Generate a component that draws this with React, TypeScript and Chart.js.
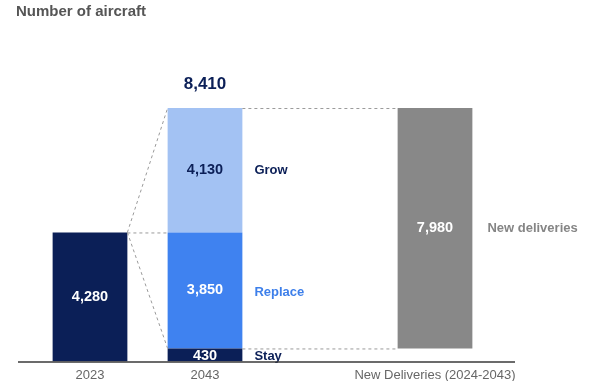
import React, { useEffect, useRef } from "react";
import { Chart, registerables } from "chart.js";

Chart.register(...registerables);

// ---- Data ----
const categories = ["2023", "2043", "", "New Deliveries (2024-2043)"];
const fleet2023 = [4280, null, null, null];
const stay = [null, 430, null, null];
const replace = [null, 3850, null, null];
const grow = [null, 4130, null, null];
const newDeliveriesRange: (number[] | null)[] = [null, null, null, [430, 8410]];
const total2043 = 8410;
const newDeliveriesTotal = 7980;
const segmentNames = ["Stay", "Replace", "Grow"];
const newDeliveriesName = "New deliveries";
const titleText = "Number of aircraft";

const FONT = '"Liberation Sans", Arial, Helvetica, sans-serif';
const NAVY = "#0b1f57";
const BLUE = "#3f82f0";
const LIGHT = "#a3c2f3";
const GRAY = "#888888";

const fmt = (v: number) => v.toLocaleString("en-US");

export default function App() {
  const ref = useRef<HTMLCanvasElement>(null);

  useEffect(() => {
    const canvas = ref.current;
    if (!canvas) return;

    const overlay = {
      id: "overlay",
      afterDatasetsDraw(chart: any) {
        const c = chart.ctx;
        const el = (ds: number, i: number) => chart.getDatasetMeta(ds).data[i] as any;
        const box = (e: any) => ({
          l: e.x - e.width / 2,
          r: e.x + e.width / 2,
          top: Math.min(e.y, e.base),
          bot: Math.max(e.y, e.base),
          cx: e.x,
          cy: (e.y + e.base) / 2,
        });
        const bStay = box(el(0, 1));
        const bRep = box(el(1, 1));
        const bGrow = box(el(2, 1));
        const b23 = box(el(3, 0));
        const bNd = box(el(4, 3));

        c.save();
        // dashed connectors
        c.strokeStyle = "#9a9a9a";
        c.lineWidth = 1;
        c.setLineDash([3, 3]);
        const line = (x1: number, y1: number, x2: number, y2: number) => {
          c.beginPath();
          c.moveTo(x1, y1);
          c.lineTo(x2, y2);
          c.stroke();
        };
        line(b23.r, b23.top + 0.5, bStay.l, b23.top + 0.5);
        line(b23.r, b23.top, bGrow.l, bGrow.top);
        line(b23.r, b23.top, bStay.l, bStay.top);
        line(bGrow.r, bGrow.top + 0.5, bNd.l, bGrow.top + 0.5);
        line(bStay.r, bStay.top + 0.5, bNd.l, bStay.top + 0.5);
        c.setLineDash([]);

        // value labels
        c.textBaseline = "middle";
        c.textAlign = "center";
        c.font = `bold 14.5px ${FONT}`;
        c.fillStyle = "#ffffff";
        c.fillText(fmt(fleet2023[0] as number), b23.cx, b23.cy);
        c.fillText(fmt(stay[1] as number), bStay.cx, bStay.cy + 1);
        c.fillText(fmt(replace[1] as number), bRep.cx, bRep.cy);
        c.fillText(fmt(newDeliveriesTotal), bNd.cx, bNd.cy);
        c.fillStyle = NAVY;
        c.fillText(fmt(grow[1] as number), bGrow.cx, bGrow.cy);
        c.font = `bold 17px ${FONT}`;
        c.fillText(fmt(total2043), bGrow.cx, bGrow.top - 24);

        // names
        c.textAlign = "left";
        c.font = `bold 13px ${FONT}`;
        c.fillStyle = NAVY;
        c.fillText(segmentNames[2], bGrow.r + 12, bGrow.cy);
        c.fillText(segmentNames[0], bStay.r + 12, bStay.cy + 1);
        c.fillStyle = "#3d7fea";
        c.fillText(segmentNames[1], bRep.r + 12, bRep.cy + 2);
        c.fillStyle = "#858585";
        c.fillText(newDeliveriesName, bNd.r + 15, bNd.cy);

        // baseline
        const yb = chart.chartArea.bottom + 0.5;
        c.strokeStyle = "#3a3a3a";
        c.lineWidth = 1.5;
        c.beginPath();
        c.moveTo(18, yb);
        c.lineTo(515, yb);
        c.stroke();
        c.restore();
      },
    };

    const chart = new Chart(canvas, {
      type: "bar",
      data: {
        labels: categories,
        datasets: [
          { label: segmentNames[0], data: stay as any, backgroundColor: NAVY },
          { label: segmentNames[1], data: replace as any, backgroundColor: BLUE },
          { label: segmentNames[2], data: grow as any, backgroundColor: LIGHT },
          { label: "2023", data: fleet2023 as any, backgroundColor: NAVY },
          { label: newDeliveriesName, data: newDeliveriesRange as any, backgroundColor: GRAY },
        ],
      },
      options: {
        responsive: false,
        animation: false,
        devicePixelRatio: 1,
        layout: { padding: { left: 32.5, right: 96.5, top: 30, bottom: 0 } },
        datasets: { bar: { barPercentage: 0.65, categoryPercentage: 1 } },
        plugins: {
          legend: { display: false },
          tooltip: { enabled: false },
          title: { display: false },
        },
        scales: {
          x: {
            stacked: true,
            grid: { display: false, drawTicks: false },
            border: { display: false },
            ticks: {
              autoSkip: false,
              maxRotation: 0,
              minRotation: 0,
              padding: 6,
              color: "#666666",
              font: { family: FONT, size: 13 },
            },
          },
          y: {
            stacked: true,
            display: false,
            min: 0,
            max: 11000,
          },
        },
      },
      plugins: [overlay],
    });

    return () => chart.destroy();
  }, []);

  return (
    <div
      style={{
        position: "fixed",
        left: 0,
        top: 0,
        width: 589,
        height: 381,
        background: "#ffffff",
        overflow: "hidden",
      }}
    >
      <div
        style={{
          position: "absolute",
          left: 16,
          top: 2,
          font: `bold 15px ${FONT}`,
          color: "#555555",
          whiteSpace: "nowrap",
        }}
      >
        {titleText}
      </div>
      <canvas ref={ref} width={589} height={389} style={{ display: "block" }} />
    </div>
  );
}
